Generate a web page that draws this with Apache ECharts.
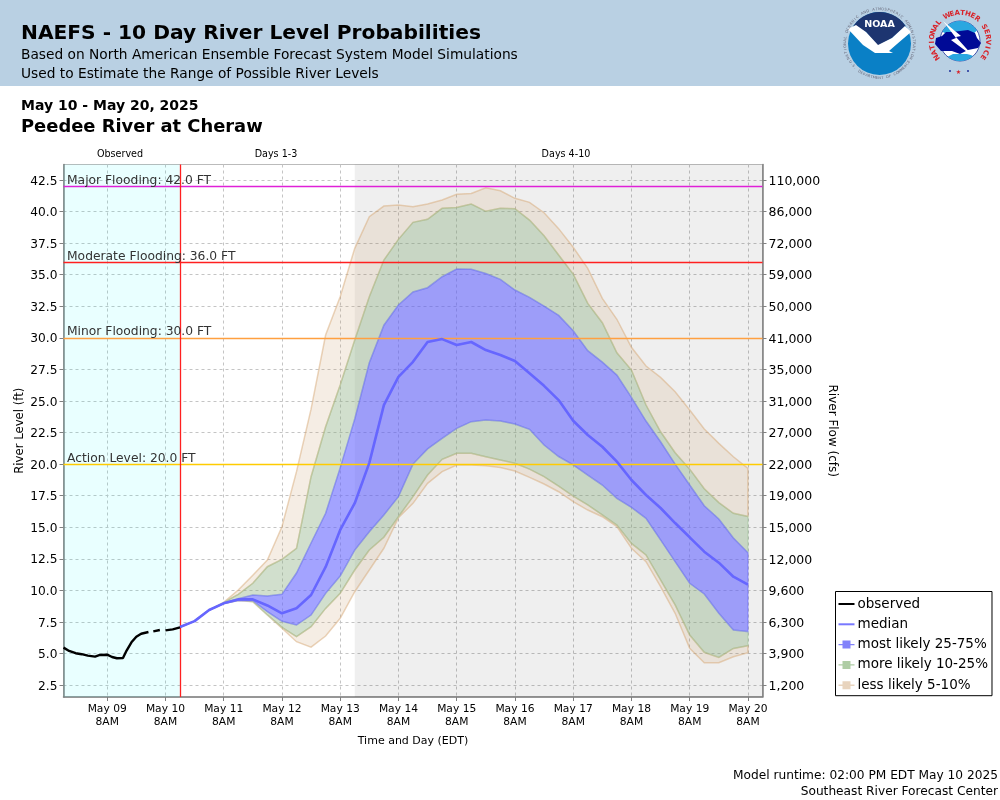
<!DOCTYPE html>
<html>
<head>
<meta charset="utf-8">
<title>NAEFS - 10 Day River Level Probabilities</title>
<script src="https://cdn.jsdelivr.net/npm/echarts@6/dist/echarts.min.js"></script>
<style>
html, body { margin: 0; padding: 0; background: #fff; }
#chart { width: 1000px; height: 800px; }
</style>
</head>
<body>
<div id="chart"></div>
<script>
// x is hours after May 09 8AM
var xTickHours = [0, 24, 48, 72, 96, 120, 144, 168, 192, 216, 240, 264];
var xTickLabels = ['May 09\n8AM', 'May 10\n8AM', 'May 11\n8AM', 'May 12\n8AM', 'May 13\n8AM', 'May 14\n8AM',
  'May 15\n8AM', 'May 16\n8AM', 'May 17\n8AM', 'May 18\n8AM', 'May 19\n8AM', 'May 20\n8AM'];
var levelTicks = [2.5, 5, 7.5, 10, 12.5, 15, 17.5, 20, 22.5, 25, 27.5, 30, 32.5, 35, 37.5, 40, 42.5];
var flowLabels = ['1,200', '3,900', '6,300', '9,600', '12,000', '15,000', '19,000', '22,000', '27,000',
  '31,000', '35,000', '41,000', '50,000', '59,000', '72,000', '86,000', '110,000'];

var floodLevels = [42, 36, 30, 20];
var floodLabels = ['Major Flooding: 42.0 FT', 'Moderate Flooding: 36.0 FT', 'Minor Flooding: 30.0 FT', 'Action Level: 20.0 FT'];
var floodColors = ['#e020d8', '#ff2020', '#ffa040', '#ffcc00'];

// observed stage, null = gap in the record
var observedHours = [-18, -16, -13, -10.5, -8, -5, -3, 0, 2, 4, 6.5, 8, 10, 12, 14, 17, 18.5, 19, 21.7, 23, 24, 27, 30];
var observed = [5.46, 5.23, 5.02, 4.94, 4.83, 4.75, 4.88, 4.9, 4.72, 4.62, 4.64, 5.23, 5.88, 6.33, 6.56, 6.7, null,
  6.75, 6.86, null, 6.83, 6.91, 7.07];

// forecast percentiles every 6 hours from May 10 2PM
var p50 = [7.09, 7.56, 8.44, 8.97, 9.28, 9.28, 8.8, 8.18, 8.58, 9.63, 11.85, 14.78, 16.9, 20.1, 24.67, 26.9, 28.1, 29.67, 29.9, 29.43,
  29.67, 29.03, 28.64, 28.16, 27.2, 26.2, 25.07, 23.43, 22.3, 21.37, 20.19, 18.74, 17.55, 16.52, 15.33, 14.2, 13.06, 12.19, 11.08, 10.45];
var p75 = [7.09, 7.56, 8.44, 9.0, 9.33, 9.63, 9.55, 9.68, 11.37, 13.75, 16.1, 19.7, 23.57, 28.03, 31.0, 32.6, 33.63, 33.97, 34.84, 35.45,
  35.43, 35.1, 34.63, 33.79, 33.2, 32.52, 31.78, 30.56, 28.98, 28.08, 27.05, 25.28, 23.41, 21.77, 20.0, 18.34, 16.7, 15.65, 14.15, 12.98];
var p25 = [7.09, 7.56, 8.44, 8.95, 9.2, 9.18, 8.31, 7.55, 7.25, 8.04, 9.76, 11.13, 13.19, 14.64, 15.97, 17.42, 20.0, 21.2, 22.04, 22.83,
  23.36, 23.49, 23.41, 23.17, 22.75, 21.51, 20.6, 19.93, 19.13, 18.34, 17.29, 16.57, 15.7, 13.99, 12.27, 10.56, 9.71, 8.18, 6.86, 6.73];
var p90 = [7.09, 7.56, 8.44, 9.05, 9.68, 10.56, 11.87, 12.45, 13.33, 19.0, 22.96, 26.26, 29.83, 33.26, 36.16, 37.8, 39.15, 39.39, 40.26, 40.33,
  40.6, 40.02, 40.26, 40.23, 39.33, 38.09, 36.56, 35.05, 32.73, 31.2, 28.82, 27.45, 24.68, 22.56, 20.9, 19.6, 18.05, 16.95, 16.1, 15.85];
var p10 = [7.09, 7.56, 8.44, 8.95, 9.23, 9.1, 8.05, 7.07, 6.33, 7.12, 8.57, 9.76, 11.61, 13.19, 14.2, 15.83, 17.42, 19.13, 20.38, 20.85,
  20.85, 20.58, 20.32, 20.06, 19.6, 19.0, 18.25, 17.47, 16.76, 15.97, 15.17, 13.72, 12.8, 10.82, 8.84, 6.46, 5.09, 4.69, 5.4, 5.61];
var p95 = [7.09, 7.56, 8.44, 9.05, 10.02, 11.2, 12.4, 15.04, 19.4, 24.35, 30.22, 33.26, 37.09, 39.6, 40.44, 40.52, 40.39, 40.6, 40.92, 41.37,
  41.44, 41.89, 41.65, 41.05, 40.73, 39.91, 38.65, 37.17, 35.5, 33.13, 31.47, 29.25, 27.77, 26.87, 25.73, 24.28, 22.78, 21.64, 20.58, 19.66];
var p05 = [7.09, 7.56, 8.44, 8.95, 9.2, 9.1, 8.05, 7.0, 5.93, 5.5, 6.38, 7.78, 9.89, 11.61, 13.33, 15.75, 16.89, 18.47, 19.4, 19.93,
  19.93, 19.87, 19.72, 19.45, 18.95, 18.42, 17.81, 17.02, 16.36, 15.83, 15.04, 13.33, 12.27, 10.29, 8.18, 5.4, 4.27, 4.27, 4.74, 5.06];

var forecastHours = p50.map(function (v, i) { return 30 + i * 6; });

var FONT = 'DejaVu Sans';
var blue = 'rgba(102,102,255,0.6)', blueEdge = 'rgba(102,102,255,0.45)';
var green = 'rgba(140,175,130,0.4)', greenEdge = 'rgba(150,195,140,0.35)';
var tan = 'rgba(205,165,120,0.2)', tanEdge = 'rgba(215,170,120,0.5)';

function zipHours(hours, vals) {
  return hours.map(function (h, i) { return [h, vals[i]]; });
}

// one closed polygon between two percentile lines
function bandShape(api, lo, hi, fill, edge) {
  var pts = [];
  forecastHours.forEach(function (h, i) { pts.push(api.coord([h, hi[i]])); });
  for (var i = forecastHours.length - 1; i >= 0; i--) { pts.push(api.coord([forecastHours[i], lo[i]])); }
  return { type: 'polygon', shape: { points: pts }, style: { fill: fill, stroke: edge, lineWidth: 1.5 } };
}

function bandSeries(name, pairs, fill, edge, z) {
  return {
    name: name,
    type: 'custom',
    z: z,
    itemStyle: { color: fill },
    silent: true,
    encode: { x: 0, y: 1 },
    data: zipHours(forecastHours, p50),
    renderItem: function (params, api) {
      if (params.dataIndex !== 0) return null;
      return {
        type: 'group',
        children: pairs.map(function (p) { return bandShape(api, p[0], p[1], fill, edge); })
      };
    }
  };
}

// letters set one by one around a circle, angles clockwise from 12 o'clock
function arcText(str, cx, cy, r, fromDeg, toDeg, font, color, weight) {
  var out = [], flip = toDeg < fromDeg;
  for (var i = 0; i < str.length; i++) {
    var deg = fromDeg + (toDeg - fromDeg) * i / (str.length - 1);
    var a = deg * Math.PI / 180;
    out.push({
      type: 'text', x: cx + r * Math.sin(a), y: cy - r * Math.cos(a),
      rotation: flip ? Math.PI - a : -a,
      style: { text: str[i], fill: color, font: (weight || 'normal') + ' ' + font + 'px ' + FONT, textAlign: 'center', textVerticalAlign: 'middle' },
      silent: true
    });
  }
  return out;
}

function arcPts(cx, cy, r, fromDeg, toDeg) {
  var pts = [];
  for (var d = fromDeg; d <= toDeg; d += 8) {
    var a = d * Math.PI / 180;
    pts.push([cx + r * Math.sin(a), cy - r * Math.cos(a)]);
  }
  return pts;
}

function headText(str, x, y, font, weight, align, color) {
  return {
    type: 'text', x: x, y: y, silent: true,
    style: { text: str, fill: color || '#000', font: (weight || 'normal') + ' ' + font + 'px ' + FONT, textAlign: align || 'left', textVerticalAlign: 'middle' }
  };
}

function logoPoly(points, fill) {
  return { type: 'polygon', shape: { points: points }, style: { fill: fill }, silent: true };
}

var logoParts = [
  // NOAA
  { type: 'circle', shape: { cx: 879.5, cy: 43.5, r: 31.5 }, style: { fill: '#0a80c6' }, silent: true },
  logoPoly(arcPts(879.5, 43.5, 31.5, -56, 56).concat([[892, 38], [878, 46], [866, 32]]), '#1d3570'),
  logoPoly([[848, 29], [856, 25], [866, 32], [878, 45], [892, 38], [905, 26], [911, 32], [897, 44], [889, 51], [893, 53], [875, 53], [863, 45]], '#fff'),
  headText('NOAA', 879.5, 25, 9.5, 'bold', 'center', '#fff'),
  // NWS
  { type: 'circle', shape: { cx: 960, cy: 41, r: 20 }, style: { fill: '#fff', stroke: '#1e2f9a', lineWidth: 0.8 }, silent: true },
  logoPoly(arcPts(960, 41, 20, -62, 62).concat([[971, 36], [949, 36]]), '#2aa7e0'),
  logoPoly(arcPts(960, 41, 20, 138, 222).concat([[953, 54], [967, 54]]), '#2aa7e0'),
  logoPoly([[935, 44], [936, 38], [942, 36], [946, 32], [952, 32], [968, 30], [975, 33], [977, 38], [981, 43], [978, 48], [968, 50], [960, 54], [952, 51], [941, 51]], '#000a96'),
  logoPoly([[943, 21], [961, 36], [956, 37], [974, 57], [951, 40], [956, 38]], '#fff'),
  { type: 'circle', shape: { cx: 950, cy: 71, r: 1 }, style: { fill: '#1e2f9a' }, silent: true },
  { type: 'circle', shape: { cx: 968, cy: 71, r: 1 }, style: { fill: '#1e2f9a' }, silent: true },
  headText('\u2605', 958.5, 72, 6, 'normal', 'center', '#d8232a')
].concat(
  arcText('NATIONAL OCEANIC AND ATMOSPHERIC ADMINISTRATION', 879.5, 43.5, 34.5, -115, 115, 3.6, '#667'),
  arcText('U.S. DEPARTMENT OF COMMERCE', 879.5, 43.5, 34.5, 238, 122, 3.6, '#667'),
  arcText('NATIONAL WEATHER SERVICE', 960, 41, 28, -125, 125, 7, '#d8232a', 'bold')
);

var headerParts = [
  { type: 'rect', shape: { x: 0, y: 0, width: 1000, height: 86 }, style: { fill: '#b9d0e3' }, silent: true, z: -1 },
  headText('NAEFS - 10 Day River Level Probabilities', 21, 33.5, 20.2, 'bold'),
  headText('Based on North American Ensemble Forecast System Model Simulations', 21, 55, 13.75),
  headText('Used to Estimate the Range of Possible River Levels', 21, 74, 13.75),
  headText('May 10 - May 20, 2025', 21, 106, 14, 'bold'),
  headText('Peedee River at Cheraw', 21, 127, 17.9, 'bold'),
  headText('Observed', 120, 154, 9.6, 'normal', 'center'),
  headText('Days 1-3', 276, 154, 9.6, 'normal', 'center'),
  headText('Days 4-10', 566, 154, 9.6, 'normal', 'center'),
  headText('Model runtime: 02:00 PM EDT May 10 2025', 998, 776, 12.2, 'normal', 'right'),
  headText('Southeast River Forecast Center', 998, 792, 12.2, 'normal', 'right')
];

var floodLines = floodLevels.map(function (lv, i) {
  return {
    yAxis: lv,
    lineStyle: { color: floodColors[i], width: 1.3, type: 'solid' },
    label: { show: true, formatter: floodLabels[i], position: 'insideStartTop', distance: [3.5, -0.4], color: '#333', fontFamily: FONT, fontSize: 12.3 }
  };
});
floodLines.push({ xAxis: 30, lineStyle: { color: '#ff2020', width: 1.3, type: 'solid' }, label: { show: false } });

var gridLine = { show: true, lineStyle: { color: '#c4c4c4', type: [3, 3], width: 1 } };
var frameLine = { show: true, onZero: false, lineStyle: { color: '#808080', width: 1.5 } };

var option = {
  animation: false,
  textStyle: { fontFamily: FONT },
  graphic: { elements: headerParts.concat(logoParts) },
  legend: {
    left: 835.5, top: 591.5, orient: 'vertical',
    backgroundColor: '#fff', borderColor: '#000', borderWidth: 1,
    padding: [5.5, 4, 3.5, 3], itemWidth: 16, itemHeight: 14, itemGap: 6.3, selectedMode: false,
    textStyle: { fontFamily: FONT, fontSize: 13.5, color: '#000', padding: [0, 0, 0, -2] },
    data: [
      { name: 'observed', icon: 'path://M0 0L0 0M0 6H16V8H0ZM16 14L16 14', itemStyle: { color: '#000' } },
      { name: 'median', icon: 'path://M0 0L0 0M0 6H16V8H0ZM16 14L16 14', itemStyle: { color: 'rgb(120,120,255)' } },
      { name: 'most likely 25-75%', icon: 'path://M0 0L0 0M0 6.3H4V7.7H0ZM12 6.3H16V7.7H12ZM4 3H12V11H4ZM16 14L16 14', itemStyle: { color: 'rgb(130,130,250)' } },
      { name: 'more likely 10-25%', icon: 'path://M0 0L0 0M0 6.3H4V7.7H0ZM12 6.3H16V7.7H12ZM4 3H12V11H4ZM16 14L16 14', itemStyle: { color: 'rgb(175,205,165)' } },
      { name: 'less likely 5-10%', icon: 'path://M0 0L0 0M0 6.3H4V7.7H0ZM12 6.3H16V7.7H12ZM4 3H12V11H4ZM16 14L16 14', itemStyle: { color: 'rgb(232,212,190)' } }
    ]
  },
  grid: { left: 63.5, top: 164.5, width: 699, height: 532.5, show: true, borderColor: '#bbb', borderWidth: 1, backgroundColor: 'transparent', outerBoundsMode: 'none' },
  xAxis: {
    type: 'value', min: -18, max: 270,
    name: 'Time and Day (EDT)', nameLocation: 'middle', nameGap: 38.5, nameMoveOverlap: false,
    nameTextStyle: { fontFamily: FONT, fontSize: 11, color: '#000' },
    axisLine: frameLine,
    axisTick: { show: true, length: 4, customValues: xTickHours, lineStyle: { color: '#808080' } },
    splitLine: gridLine,
    axisLabel: {
      customValues: xTickHours, margin: 6, color: '#000', fontFamily: FONT, fontSize: 10.7, lineHeight: 13,
      formatter: function (v) { return xTickLabels[xTickHours.indexOf(v)] || ''; }
    }
  },
  yAxis: [
    {
      type: 'value', min: 1.55, max: 43.73, position: 'left',
      name: 'River Level (ft)', nameLocation: 'middle', nameGap: 38, nameRotate: 90, nameMoveOverlap: false,
      nameTextStyle: { fontFamily: FONT, fontSize: 11.7, color: '#000' },
      axisLine: frameLine,
      axisTick: { show: true, length: 4, customValues: levelTicks, lineStyle: { color: '#808080' } },
      splitLine: gridLine,
      axisLabel: {
        customValues: levelTicks, margin: 6,
        rich: { t: { color: '#000', fontFamily: FONT, fontSize: 12.2, padding: [3, 0, 0, 0] } },
        formatter: function (v) { return '{t|' + v.toFixed(1) + '}'; }
      }
    },
    {
      type: 'value', min: 1.55, max: 43.73, position: 'right',
      name: 'River Flow (cfs)', nameLocation: 'middle', nameGap: 63.5, nameRotate: -90, nameMoveOverlap: false,
      nameTextStyle: { fontFamily: FONT, fontSize: 12, color: '#000' },
      axisLine: frameLine,
      axisTick: { show: true, length: 4, customValues: levelTicks, lineStyle: { color: '#808080' } },
      splitLine: { show: false },
      axisLabel: {
        customValues: levelTicks, margin: 6,
        rich: { t: { color: '#000', fontFamily: FONT, fontSize: 12.5, padding: [3, 0, 0, 0] } },
        formatter: function (v) { return '{t|' + (flowLabels[levelTicks.indexOf(v)] || '') + '}'; }
      }
    }
  ],
  series: [
    bandSeries('less likely 5-10%', [[p05, p10], [p90, p95]], tan, tanEdge, 2),
    bandSeries('more likely 10-25%', [[p10, p25], [p75, p90]], green, greenEdge, 3),
    bandSeries('most likely 25-75%', [[p25, p75]], blue, blueEdge, 4),
    {
      name: 'median', type: 'line', z: 5, showSymbol: false, silent: true,
      data: zipHours(forecastHours, p50),
      lineStyle: { color: 'rgb(102,102,255)', width: 2.6 },
      itemStyle: { color: 'rgb(120,120,255)' }
    },
    {
      name: 'observed', type: 'line', z: 6, showSymbol: false, silent: true, connectNulls: false,
      data: zipHours(observedHours, observed),
      lineStyle: { color: '#000', width: 2.4 },
      itemStyle: { color: '#000' },
      markArea: {
        silent: true,
        data: [
          [{ xAxis: -18, itemStyle: { color: 'rgba(0,255,255,0.086)' } }, { xAxis: 30 }],
          [{ xAxis: 102, itemStyle: { color: 'rgba(0,0,0,0.063)' } }, { xAxis: 270 }]
        ]
      },
      markLine: { silent: true, symbol: 'none', animation: false, data: floodLines }
    }
  ]
};

var myChart = echarts.init(document.getElementById('chart'), null, { renderer: 'canvas' });
myChart.setOption(option);
</script>
</body>
</html>
